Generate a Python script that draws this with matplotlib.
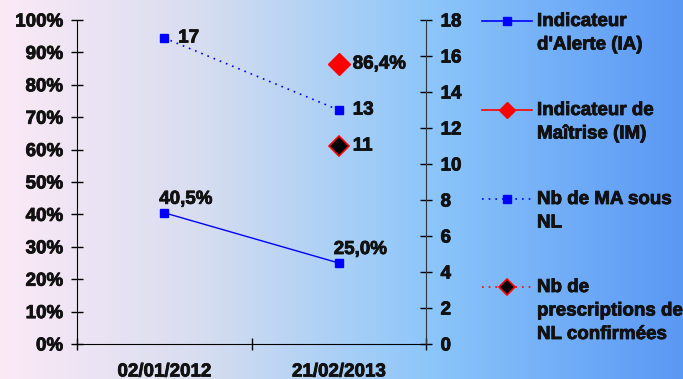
import numpy as np
import matplotlib
matplotlib.use("Agg")
import matplotlib.pyplot as plt
import matplotlib.patheffects as pe
from matplotlib.text import Text
from matplotlib.colors import LinearSegmentedColormap
from matplotlib.ticker import FuncFormatter

plt.rcParams['font.family'] = ['Liberation Sans', 'DejaVu Sans']
plt.rcParams['font.weight'] = 'bold'

# data
dates = ['02/01/2012', '21/02/2013']
ia = [0.405, 0.25]               # Indicateur d'Alerte (left axis)
im = [np.nan, 0.864]             # Indicateur de Maitrise (left axis)
nb_ma = [17, 13]                 # Nb de MA sous NL (right axis)
nb_presc = [np.nan, 11]          # Nb de prescriptions de NL confirmees (right axis)
legend_labels = ["Indicateur\nd'Alerte (IA)", "Indicateur de\nMaîtrise (IM)",
                 "Nb de MA sous\nNL", "Nb de\nprescriptions de\nNL confirmées"]

FS = 13.5
W, H = 683, 379
fig = plt.figure(figsize=(W / 100, H / 100), dpi=100)

# background gradient
bg = fig.add_axes([0, 0, 1, 1], zorder=-1)
cmap = LinearSegmentedColormap.from_list(
    'bg', [(0, '#fce9f6'), (0.3, '#d6ddf0'), (0.63, '#8cc6fa'), (1, '#5a98f5')])
bg.imshow(np.linspace(0, 1, 256)[None, :], aspect='auto', cmap=cmap, extent=[0, 1, 0, 1])
bg.axis('off')

ax = fig.add_axes([77 / W, 1 - 344 / H, 349 / W, 324 / H])
ax.patch.set_alpha(0)
ax2 = ax.twinx()
x = np.arange(len(dates))

def pct(v):
    return ('%.1f%%' % (v * 100)).replace('.', ',')

# series
ax.plot(x, ia, color='#0000ff', lw=1, marker='s', ms=5.5)
ax.plot(x, im, color='#ff0000', lw=1, marker='D', ms=11)
ax2.plot(x, nb_ma, color='#0000ff', lw=1.2, ls=(0, (1, 3)), marker='s', ms=5.5)
ax2.plot(x, nb_presc, color='#ff0000', lw=1.2, ls=(0, (1, 3)), marker='D', ms=10,
         mfc='black', mec='#ff0000', mew=1.2)

# labels
for xi, v in zip(x, ia):
    ax.annotate(pct(v), (xi, v), xytext=(-5, 5), textcoords='offset pixels',
                ha='left', va='bottom', fontsize=FS, fontweight='bold')
for xi, v in zip(x, im):
    if not np.isnan(v):
        ax.annotate(pct(v), (xi, v), xytext=(14, 0), textcoords='offset pixels',
                    ha='left', va='center', fontsize=FS, fontweight='bold')
for series in (nb_ma, nb_presc):
    for xi, v in zip(x, series):
        if not np.isnan(v):
            ax2.annotate('%d' % v, (xi, v), xytext=(14, 0), textcoords='offset pixels',
                         ha='left', va='center', fontsize=FS, fontweight='bold')

# axes
ax.set_xlim(-0.5, len(dates) - 0.5)
ax.set_ylim(0, 1)
ax2.set_ylim(0, 18)
ax.set_yticks(np.arange(0, 1.01, 0.1))
ax.yaxis.set_major_formatter(FuncFormatter(lambda v, p: '%d%%' % round(v * 100)))
ax2.set_yticks(np.arange(0, 19, 2))
ax.set_xticks(np.arange(-0.5, len(dates), 1.0))
ax.set_xticklabels([])
ax.set_xticks(x, minor=True)
ax.set_xticklabels(dates, minor=True)
ax.tick_params(axis='x', which='major', direction='inout', length=8, width=1)
ax.tick_params(axis='x', which='minor', length=0, pad=14, labelsize=FS)
ax.tick_params(axis='y', direction='inout', length=8, width=1, labelsize=FS, pad=6)
ax2.tick_params(axis='y', direction='inout', length=9, width=1, labelsize=FS, pad=6)
for lab in ax.get_xticklabels(minor=True) + ax.get_yticklabels() + ax2.get_yticklabels():
    lab.set_fontweight('bold')

for s in ('top', 'right'):
    ax.spines[s].set_visible(False)
for s in ('top', 'left', 'bottom'):
    ax2.spines[s].set_visible(False)
ax2.spines['right'].set_color('#333333')

# legend
leg = fig.add_axes([0, 0, 1, 1], zorder=5)
leg.set_xlim(0, W)
leg.set_ylim(H, 0)
leg.axis('off')
styles = [dict(color='#0000ff', ls='-', marker='s', ms=5.5, mfc='#0000ff', mec='#0000ff', mew=1),
          dict(color='#ff0000', ls='-', marker='D', ms=8, mfc='#ff0000', mec='#ff0000', mew=1),
          dict(color='#0000ff', ls=(0, (1, 3)), marker='s', ms=5.5, mfc='#0000ff', mec='#0000ff', mew=1),
          dict(color='#ff0000', ls=(0, (1, 3)), marker='D', ms=8, mfc='black', mec='#ff0000', mew=1.2)]
rows = [21, 110, 199, 287]
for yr, st, lab in zip(rows, styles, legend_labels):
    leg.plot([482, 532], [yr, yr], lw=1.2, color=st['color'], ls=st['ls'])
    leg.plot([507], [yr], ls='none', marker=st['marker'], ms=st['ms'], mfc=st['mfc'],
             mec=st['mec'], mew=st['mew'])
    leg.text(537, yr - 8, lab, ha='left', va='top', fontsize=FS, fontweight='bold',
             linespacing=1.5)

# heavier text, closer to the original rendering
for t in fig.findobj(Text):
    t.set_color('#111111')
    t.set_path_effects([pe.withStroke(linewidth=0.6, foreground='#111111')])

fig.savefig('out.png', dpi=100)
